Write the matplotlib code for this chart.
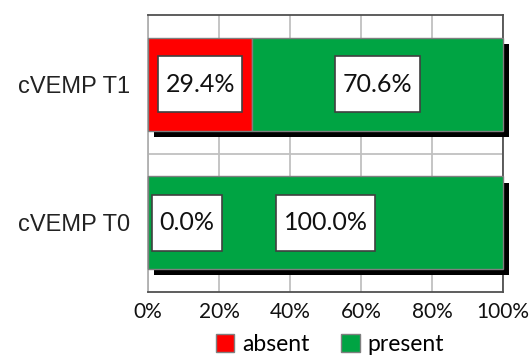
import matplotlib
matplotlib.use("Agg")
import matplotlib.pyplot as plt
import matplotlib.patheffects as pe
from matplotlib.path import Path
from matplotlib.patches import Patch

categories = ["cVEMP T0", "cVEMP T1"]
absent = [0.0, 29.4]
present = [100.0, 70.6]
series_names = ["absent", "present"]
series_colors = ["#ff0000", "#00a443"]
xticks = [0, 20, 40, 60, 80, 100]

label_font = "Lato"
cat_font = "Liberation Sans"


def label_box(x0, y0, width, height, mutation_size):
    # Rectangular label box: snug horizontally, tall vertically
    padx = 0.30 * mutation_size
    h = 2.25 * mutation_size
    cy = y0 + height / 2
    left, right = x0 - padx, x0 + width + padx
    bottom, top = cy - h / 2, cy + h / 2
    return Path([(left, bottom), (right, bottom), (right, top), (left, top), (left, bottom)],
                closed=True)


fig = plt.figure(figsize=(5.32, 3.55), dpi=100)
ax = fig.add_axes([148 / 532, 1 - 292 / 355, 355 / 532, 277 / 355])

y = list(range(len(categories)))
shadow = [pe.SimplePatchShadow(offset=(4.5, -4.5), shadow_rgbFace="black", alpha=1.0), pe.Normal()]

lefts = [0.0] * len(categories)
for name, vals, color in zip(series_names, [absent, present], series_colors):
    bars = ax.barh(y, vals, left=lefts, height=0.67, color=color, edgecolor="#7f7f7f",
                   linewidth=1.0, zorder=3)
    for b in bars:
        b.set_path_effects(shadow)
        b.set_clip_on(False)
    for yi, v, l in zip(y, vals, lefts):
        txt = f"{v:.1f}%"
        if v == 0:
            ax.annotate(txt, xy=(l, yi), xytext=(8, 0), textcoords="offset points",
                        ha="left", va="center", fontsize=18, family=label_font,
                        color="#111111", zorder=5,
                        bbox=dict(boxstyle=label_box, fc="white", ec="#404040", lw=1.2))
        else:
            ax.text(l + v / 2, yi, txt, ha="center", va="center", fontsize=18,
                    family=label_font, color="#111111", zorder=5,
                    bbox=dict(boxstyle=label_box, fc="white", ec="#404040", lw=1.2))
    lefts = [a + b for a, b in zip(lefts, vals)]

ax.set_xlim(0, 100)
ax.set_ylim(-0.5, 1.5)
ax.set_xticks(xticks)
ax.set_xticklabels([f"{t}%" for t in xticks], fontsize=15, family=label_font, color="#111111")
ax.set_yticks(y)
ax.set_yticklabels(categories, fontsize=17, family=cat_font, color="#222222")
ax.set_yticks([0.5], minor=True)
ax.tick_params(axis="both", which="both", length=0)
ax.tick_params(axis="x", pad=7)
ax.tick_params(axis="y", pad=13)

ax.set_axisbelow(True)
ax.grid(axis="x", which="major", color="#c0c0c0", linewidth=1.3, zorder=0)
ax.grid(axis="y", which="minor", color="#c0c0c0", linewidth=1.3, zorder=0)

for side in ["top", "bottom", "right"]:
    ax.spines[side].set_color("#505050")
    ax.spines[side].set_linewidth(1.3)
ax.spines["left"].set_color("#b0b0b0")
ax.spines["left"].set_linewidth(1.3)

handles = [Patch(facecolor=c, edgecolor="#7f7f7f", linewidth=1.0) for c in series_colors]
fig.legend(handles, series_names, loc="lower center", bbox_to_anchor=(0.62, 0.0), ncol=2,
           frameon=False, prop={"family": label_font, "size": 16.5},
           handlelength=0.8, handleheight=0.8, handletextpad=0.35, columnspacing=1.4,
           borderpad=0.0, borderaxespad=0.0)

fig.savefig("out.png", dpi=100)
